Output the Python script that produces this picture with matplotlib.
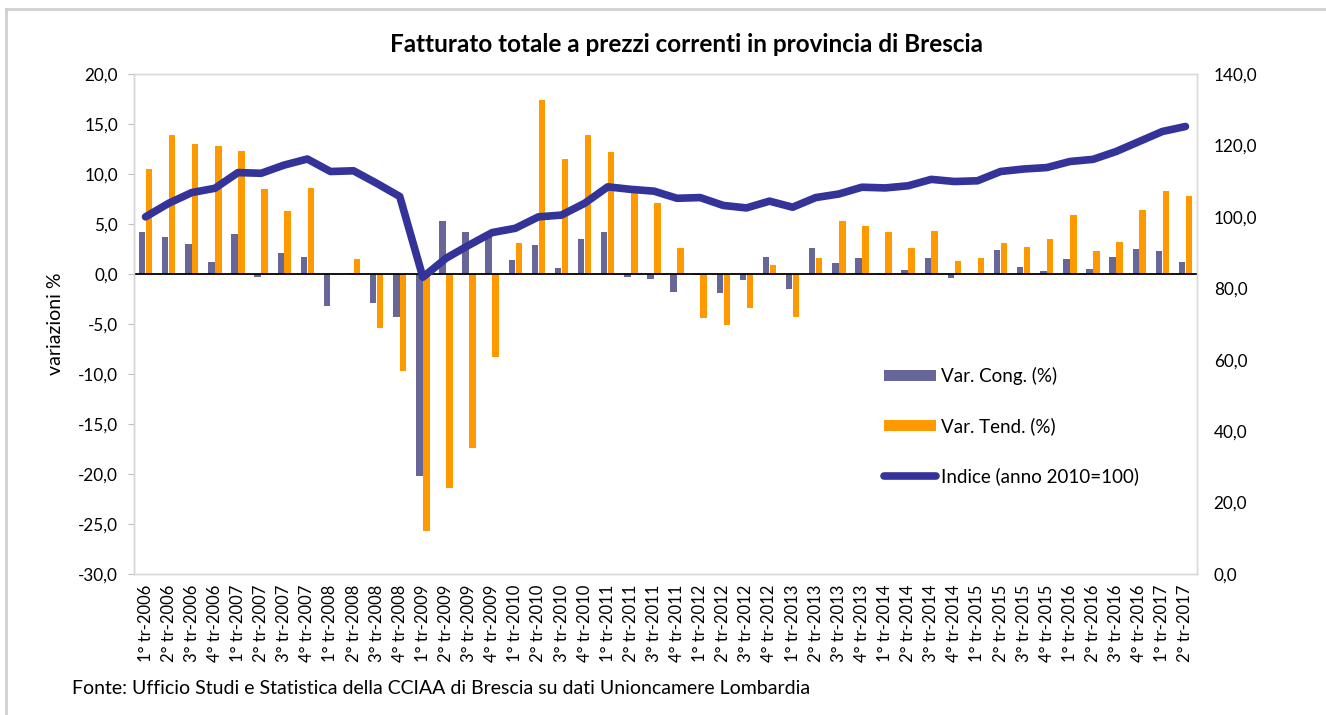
import numpy as np
import matplotlib
matplotlib.use('Agg')
import matplotlib.pyplot as plt
from matplotlib.lines import Line2D
import matplotlib.ticker as mtick

plt.rcParams['font.family'] = ['Lato', 'DejaVu Sans']

years = list(range(2006, 2018))
quarters = [f"{q}° tr-{y}" for y in years for q in (1, 2, 3, 4)][:46]

var_cong = [4.2, 3.7, 3.0, 1.2, 4.0, -0.3, 2.1, 1.7,
            -3.2, 0.1, -2.9, -4.3, -20.2, 5.3, 4.2, 3.8,
            1.4, 2.9, 0.6, 3.5, 4.2, -0.3, -0.5, -1.8,
            -0.05, -1.9, -0.6, 1.7, -1.5, 2.6, 1.1, 1.6,
            -0.05, 0.4, 1.6, -0.4, 0.05, 2.4, 0.7, 0.3,
            1.5, 0.5, 1.7, 2.5, 2.3, 1.2]
var_tend = [10.5, 13.9, 13.0, 12.8, 12.3, 8.5, 6.3, 8.6,
            0.05, 1.5, -5.4, -9.7, -25.7, -21.4, -17.4, -8.3,
            3.1, 17.4, 11.5, 13.9, 12.2, 8.2, 7.1, 2.6,
            -4.4, -5.1, -3.4, 0.9, -4.3, 1.6, 5.3, 4.8,
            4.2, 2.6, 4.3, 1.3, 1.6, 3.1, 2.7, 3.5,
            5.9, 2.3, 3.2, 6.4, 8.3, 7.8]
indice = [100.0, 103.8, 106.8, 108.0, 112.4, 112.2, 114.5, 116.2,
          112.7, 112.9, 109.4, 105.7, 83.1, 88.4, 92.1, 95.6,
          96.8, 100.0, 100.5, 103.8, 108.4, 107.7, 107.2, 105.2,
          105.4, 103.2, 102.5, 104.4, 102.7, 105.4, 106.4, 108.3,
          108.1, 108.7, 110.5, 109.9, 110.1, 112.7, 113.4, 113.8,
          115.5, 116.1, 118.3, 121.1, 123.9, 125.3]

c_cong = '#666699'
c_tend = '#FF9900'
c_line = '#333399'


def comma_fmt(v, pos):
    return f"{v:.1f}".replace('.', ',')


fig = plt.figure(figsize=(13.26, 7.15), dpi=100)
ax = fig.add_axes([134 / 1326, 141 / 715, 1063 / 1326, 500 / 715])
ax2 = ax.twinx()

x = np.arange(len(quarters))
w = 0.28
ax.bar(x - 0.15, var_cong, w, color=c_cong, label='Var. Cong. (%)', zorder=2)
ax.bar(x + 0.15, var_tend, w, color=c_tend, label='Var. Tend. (%)', zorder=2)
ax.axhline(0, color='black', lw=1.3, zorder=3)
ax2.plot(x, indice, color=c_line, lw=5.5, solid_capstyle='round',
         solid_joinstyle='round', label='Indice (anno 2010=100)')

ax.set_xlim(-0.5, len(quarters) - 0.5)
ax.set_ylim(-30, 20)
ax.set_yticks(np.arange(-30, 21, 5))
ax.yaxis.set_major_formatter(mtick.FuncFormatter(comma_fmt))
ax2.set_ylim(0, 140)
ax2.set_yticks(np.arange(0, 141, 20))
ax2.yaxis.set_major_formatter(mtick.FuncFormatter(comma_fmt))

ax.set_xticks(x)
ax.set_xticklabels(quarters, rotation=90, fontsize=12)
ax.tick_params(axis='x', length=0, pad=8)
ax.tick_params(axis='y', length=4.5, color='#BFBFBF', pad=7, labelsize=12.3)
ax2.tick_params(axis='y', length=0, pad=12, labelsize=12.3)

for a in (ax, ax2):
    for s in a.spines.values():
        s.set_color('#D9D9D9')
        s.set_linewidth(1)
ax.spines['left'].set_color('#BFBFBF')

ax.set_ylabel('variazioni %', fontsize=14, labelpad=10)
fig.text(0.5175, 1 - 45 / 715, 'Fatturato totale a prezzi correnti in provincia di Brescia',
         ha='center', va='center', fontsize=17.5, fontweight='bold')
fig.text(72 / 1326, 1 - 688 / 715,
         'Fonte: Ufficio Studi e Statistica della CCIAA di Brescia su dati Unioncamere Lombardia',
         ha='left', va='center', fontsize=14)

handles = ax.get_legend_handles_labels()[0] + ax2.get_legend_handles_labels()[0]
labels = [h.get_label() for h in handles]
fig.legend(handles, labels, loc='upper left', bbox_to_anchor=(884 / 1326, 1 - 367 / 715),
           frameon=False, fontsize=13.5, handlelength=2.75, handleheight=0.55,
           handletextpad=0.3, labelspacing=1.72, borderpad=0, borderaxespad=0)

# outer chart frame
fig.add_artist(Line2D([6 / 1326, 6 / 1326], [0, 1 - 9 / 715], color='#D0D0D0', lw=2,
                      transform=fig.transFigure))
fig.add_artist(Line2D([6 / 1326, 1], [1 - 9 / 715, 1 - 9 / 715], color='#D0D0D0', lw=2,
                      transform=fig.transFigure))

fig.savefig('out.png', dpi=100)
